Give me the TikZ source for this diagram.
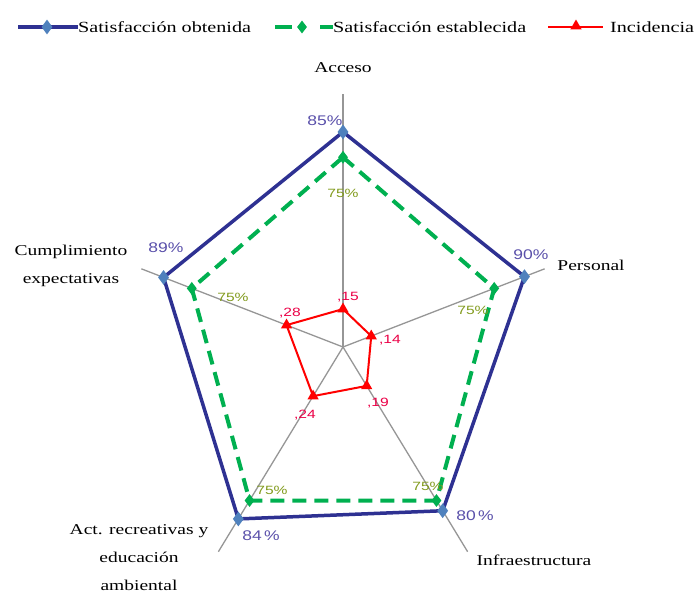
\documentclass[tikz,border=0pt]{standalone}
\usepackage{fontspec}
\setmainfont{Liberation Serif}[FakeStretch=1.3]
\newfontfamily\pctfont{Liberation Sans}[FakeStretch=1.25]
\newfontfamily\smallfont{Liberation Sans}[FakeStretch=1.3]
\usetikzlibrary{shapes.geometric}
\definecolor{ser1}{RGB}{46,49,146}
\definecolor{mk1}{RGB}{79,129,189}
\definecolor{ser2}{RGB}{0,176,80}
\definecolor{ser3}{RGB}{255,0,0}
\definecolor{axisgray}{RGB}{150,150,150}
\definecolor{pctblue}{RGB}{90,80,170}
\definecolor{pctgreen}{RGB}{130,155,30}
\definecolor{pctred}{RGB}{235,0,70}
\tikzset{
  axisline/.style={draw=axisgray, line width=1.3pt},
  bluepoly/.style={draw=ser1, line width=3.5pt, line join=miter},
  greenpoly/.style={draw=ser2, line width=4pt, dash pattern=on 14pt off 8pt},
  redpoly/.style={draw=ser3, line width=2pt},
  bluemark/.style={diamond, fill=mk1, inner sep=0pt, minimum width=11pt, minimum height=15pt},
  greenmark/.style={diamond, fill=ser2, inner sep=0pt, minimum width=10pt, minimum height=13pt},
  redmark/.style={regular polygon, regular polygon sides=3, fill=ser3, inner sep=0pt, minimum size=13pt},
  catlabel/.style={font=\fontsize{15}{28}\selectfont, align=center, inner sep=0pt, text=black},
  legtext/.style={font=\fontsize{15.5}{18}\selectfont, anchor=west, inner sep=0pt, text=black},
  bluepct/.style={font=\pctfont\fontsize{14}{16}\selectfont, text=pctblue, inner sep=0pt},
  greenpct/.style={font=\smallfont\fontsize{12}{14}\selectfont, text=pctgreen, inner sep=0pt},
  redpct/.style={font=\smallfont\fontsize{12}{14}\selectfont, text=pctred, inner sep=0pt},
}
\begin{document}
\begin{tikzpicture}[x=1pt, y=-1pt]
\useasboundingbox (0,0) rectangle (697,597);
\begin{scope}[shift={(343,347)}, x={(212pt,0pt)}, y={(0pt,253pt)}]
  \coordinate (O) at (0,0);
  % axis ends
  \coordinate (eA) at (90:1);
  \coordinate (eP) at (18:1);
  \coordinate (eI) at (-54:1);
  \coordinate (eR) at (-126:1);
  \coordinate (eC) at (162:1);
  % series 1
  \coordinate (bA) at (90:0.85);
  \coordinate (bP) at (18:0.90);
  \coordinate (bI) at (-54:0.80);
  \coordinate (bR) at (-126:0.84);
  \coordinate (bC) at (162:0.89);
  % series 2
  \coordinate (gA) at (90:0.75);
  \coordinate (gP) at (18:0.75);
  \coordinate (gI) at (-54:0.75);
  \coordinate (gR) at (-126:0.75);
  \coordinate (gC) at (162:0.75);
  % series 3
  \coordinate (rA) at (90:0.15);
  \coordinate (rP) at (18:0.14);
  \coordinate (rI) at (-54:0.19);
  \coordinate (rR) at (-126:0.24);
  \coordinate (rC) at (162:0.28);
\end{scope}
% axes
\foreach \e in {eA,eP,eI,eR,eC} \draw[axisline] (O) -- (\e);
% polygons
\draw[bluepoly] (bA) -- (bP) -- (bI) -- (bR) -- (bC) -- cycle;
\draw[greenpoly] (gA) -- (gP) -- (gI) -- (gR) -- (gC) -- cycle;
\draw[redpoly] (rA) -- (rP) -- (rI) -- (rR) -- (rC) -- cycle;
% markers
\foreach \p in {A,P,I,R,C} {
  \node[bluemark] (mb\p) at (b\p) {};
  \node[greenmark] (mg\p) at (g\p) {};
  \node[redmark] (mr\p) at (r\p) {};
}
% category labels
\node[catlabel] (lA) at (343,68) {Acceso};
\node[catlabel] (lP) at (591,265) {Personal};
\node[catlabel] (lI) at (534,560) {Infraestructura};
\node[catlabel] (lR) at (139,558) {Act. recreativas y\\educación\\ambiental};
\node[catlabel] (lC) at (71,266) {Cumplimiento\\expectativas};
% value labels series 1
\node[bluepct] (vbA) at (325,121) {85\%};
\node[bluepct] (vbP) at (531,255) {90\%};
\node[bluepct] (vbI) at (475,516) {80\,\%};
\node[bluepct] (vbR) at (261,536) {84\,\%};
\node[bluepct] (vbC) at (166,248) {89\%};
% value labels series 2
\node[greenpct] (vgA) at (343,193) {75\%};
\node[greenpct] (vgP) at (473,310) {75\%};
\node[greenpct] (vgI) at (428,486) {75\%};
\node[greenpct] (vgR) at (272,490) {75\%};
\node[greenpct] (vgC) at (233,297) {75\%};
% value labels series 3
\node[redpct] (vrA) at (348,297) {,15};
\node[redpct] (vrP) at (390,340) {,14};
\node[redpct] (vrI) at (378,403) {,19};
\node[redpct] (vrR) at (305,415) {,24};
\node[redpct] (vrC) at (290,313) {,28};
% legend
\coordinate (L1a) at (18,27); \coordinate (L1b) at (78,27);
\draw[draw=ser1, line width=3.5pt] (L1a) -- (L1b);
\node[bluemark] (LM1) at (47,27) {};
\node[legtext] (LT1) at (L1b) {Satisfacción obtenida};
\coordinate (L2a) at (275,27); \coordinate (L2b) at (333,27);
\draw[draw=ser2, line width=4pt, dash pattern=on 17pt off 28pt] (L2a) -- (L2b);
\node[greenmark] (LM2) at (302,27) {};
\node[legtext] (LT2) at (L2b) {Satisfacción establecida};
\coordinate (L3a) at (548,27); \coordinate (L3b) at (603,27);
\draw[draw=ser3, line width=2pt] (L3a) -- (L3b);
\node[redmark] (LM3) at (576,26) {};
\node[legtext] (LT3) at (610,27) {Incidencia};
\end{tikzpicture}
\end{document}
